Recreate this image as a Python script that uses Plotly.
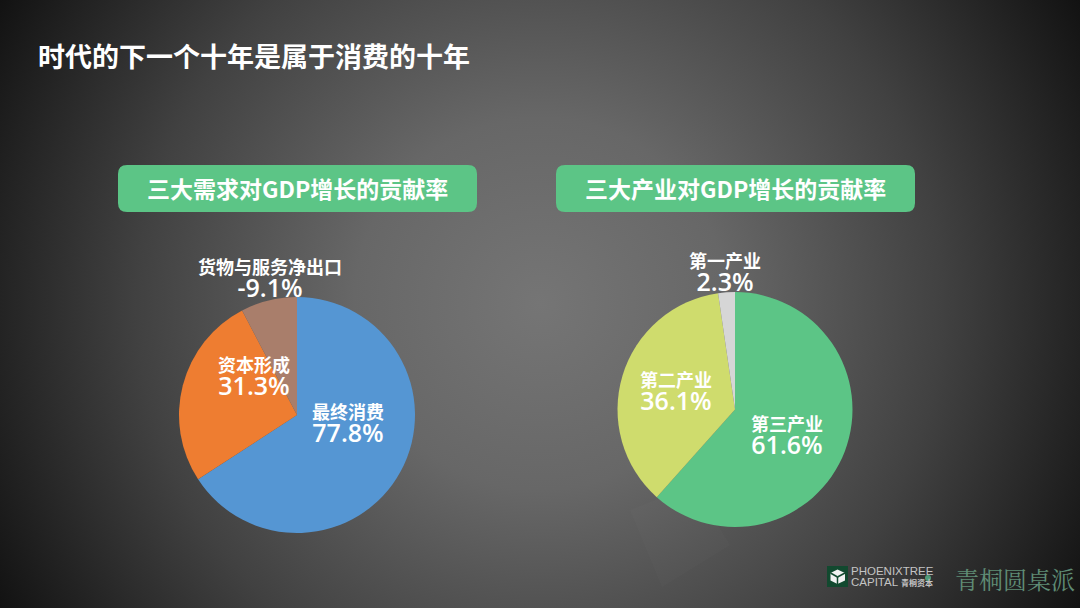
import plotly.graph_objects as go

TITLE = "时代的下一个十年是属于消费的十年"
LEFT_HEAD = "三大需求对GDP增长的贡献率"
RIGHT_HEAD = "三大产业对GDP增长的贡献率"

left_names = ["最终消费", "资本形成", "货物与服务净出口"]
left_values = [77.8, 31.3, -9.1]
left_colors = ["#5596d3", "#ee7d31", "#a97e6b"]

right_names = ["第三产业", "第二产业", "第一产业"]
right_values = [61.6, 36.1, 2.3]
right_colors = ["#5cc586", "#cfdc6d", "#d6d6d6"]

W, H = 1080, 608
FONT = "Noto Sans CJK SC"

bg = ("data:image/svg+xml;utf8,"
      "<svg xmlns='http://www.w3.org/2000/svg' width='1080' height='608'>"
      "<defs><radialGradient id='g' gradientUnits='userSpaceOnUse' cx='540' cy='304' r='620'>"
      "<stop offset='0' stop-color='%23757575'/>"
      "<stop offset='0.3' stop-color='%23676767'/>"
      "<stop offset='0.65' stop-color='%23414141'/>"
      "<stop offset='1' stop-color='%23121212'/>"
      "</radialGradient></defs>"
      "<rect width='1080' height='608' fill='url(%23g)'/></svg>")


def px(x):
    return x / W


def py(y):
    return 1 - y / H


def pie(values, colors, cx, cy, r, names):
    return go.Pie(
        values=[abs(v) for v in values],
        labels=names,
        marker=dict(colors=colors, line=dict(width=0)),
        sort=False,
        direction="clockwise",
        rotation=0,
        textinfo="none",
        hoverinfo="label+value",
        showlegend=False,
        domain=dict(x=[px(cx - r), px(cx + r)], y=[py(cy + r), py(cy - r)]),
    )


fig = go.Figure()
fig.add_trace(pie(left_values, left_colors, 297, 415, 118, left_names))
fig.add_trace(pie(right_values, right_colors, 735, 409.5, 117.5, right_names))

ann = []


def text(s, x, y, size, color="#ffffff", weight=700, family=FONT, angle=0, xanchor="center"):
    ann.append(dict(text=s, x=px(x), y=py(y), xref="paper", yref="paper",
                    xanchor=xanchor, yanchor="middle", showarrow=False, textangle=angle,
                    font=dict(family=family, size=size, color=color, weight=weight)))


text(TITLE, 36, 56, 27, xanchor="left")
text(LEFT_HEAD, 297, 188, 23)
text(RIGHT_HEAD, 735, 188, 23)

label_xy = [(348, 424), (254, 376), (270, 278), (787, 435), (676, 391), (725, 272)]
names = left_names + right_names
values = left_values + right_values
for n, v, xy in zip(names, values, label_xy):
    text(f"{n}<br><span style=\"font-size:25px;font-weight:600;font-family:'Open Sans'\">{v}%</span>",
         xy[0], xy[1], 18)

# faint watermark text
text("PHOENIXTREE", 935, 385, 36, color="rgba(255,255,255,0.02)", angle=-42)

# logo
text("PHOENIXTREE", 849, 571, 11.5, color="#c4c4c4", weight=400, family="Liberation Sans", xanchor="left")
text("CAPITAL", 849, 582, 11.5, color="#c4c4c4", weight=400, family="Liberation Sans", xanchor="left")
text("青桐资本", 899, 582, 8, color="#c4c4c4", weight=700, xanchor="left")
text("青桐圆桌派", 953, 578, 24, color="#5f8c75", weight=400, family="Noto Serif CJK SC, Noto Sans CJK SC", xanchor="left")


def rrect(x0, y0, x1, y1, r):
    return (f"M{px(x0+r)},{py(y0)} L{px(x1-r)},{py(y0)} Q{px(x1)},{py(y0)} {px(x1)},{py(y0+r)} "
            f"L{px(x1)},{py(y1-r)} Q{px(x1)},{py(y1)} {px(x1-r)},{py(y1)} "
            f"L{px(x0+r)},{py(y1)} Q{px(x0)},{py(y1)} {px(x0)},{py(y1-r)} "
            f"L{px(x0)},{py(y0+r)} Q{px(x0)},{py(y0)} {px(x0+r)},{py(y0)} Z")


def poly(points):
    return "M" + " L".join(f"{px(x)},{py(y)}" for x, y in points) + " Z"


def area(path, fill, layer="above"):
    return dict(type="path", path=path, xref="paper", yref="paper",
                fillcolor=fill, line=dict(width=0), layer=layer)


def seg(x0, y0, x1, y1, color, width=1.5):
    return dict(type="line", x0=px(x0), y0=py(y0), x1=px(x1), y1=py(y1), xref="paper", yref="paper",
                line=dict(color=color, width=width))


shapes = [
    area(poly([(630, 510), (662, 587), (730, 545), (705, 505), (660, 498)]), "rgba(255,255,255,0.014)", "below"),
    area(rrect(118, 165, 477, 212, 9), "#5cc586", "below"),
    area(rrect(556, 165, 915, 212, 9), "#5cc586", "below"),
    area(poly([(827, 566), (848, 566), (848, 587), (827, 587)]), "#12492f"),
    area(poly([(837.5, 569.5), (845, 573), (845, 580.5), (837.5, 584), (830.5, 580.5), (830.5, 573)]), "#f2f2f2"),
    seg(830.5, 573, 837.5, 577, "#12492f"),
    seg(845, 573, 837.5, 577, "#12492f"),
    seg(837.5, 577, 837.5, 584, "#12492f"),
    dict(type="circle", x0=px(925), x1=px(931), y0=py(581), y1=py(575), xref="paper", yref="paper",
         fillcolor="#4f9a78", line=dict(width=0)),
]

fig.update_layout(
    width=W, height=H, autosize=False,
    margin=dict(l=0, r=0, t=0, b=0),
    paper_bgcolor="#333333",
    annotations=ann,
    shapes=shapes,
    images=[dict(source=bg, xref="paper", yref="paper", x=0, y=1, sizex=1, sizey=1,
                 xanchor="left", yanchor="top", sizing="stretch", layer="below")],
)
fig.write_html("out.html", config=dict(displayModeBar=False),
               post_script="document.body.style.margin='0';document.body.style.overflow='hidden';")
